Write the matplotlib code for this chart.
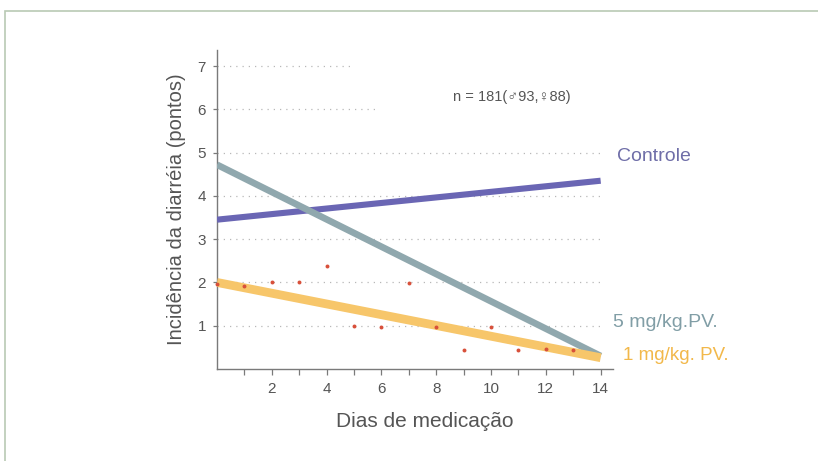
import matplotlib
matplotlib.use('Agg')
import matplotlib.pyplot as plt
from matplotlib.patches import Rectangle

plt.rcParams['font.family'] = ['Liberation Sans', 'DejaVu Sans']

# daily scores (red dots) and the three trend lines
days = list(range(0, 14))
pontos = [1.97, 1.92, 2.02, 2.02, 2.37, 1.0, 0.98, 1.99, 0.98, 0.45, 0.97, 0.45, 0.46, 0.45]

trend_x = [0, 14]
controle = [3.45, 4.35]
mg5 = [4.72, 0.30]
mg1 = [2.00, 0.26]

grid_levels = [1, 2, 3, 4, 5, 6, 7]
grid_ends = [14, 14, 14, 14, 14.1, 5.9, 4.9]

x_ticks = list(range(1, 15))
x_labels = ['' if d % 2 else str(d) for d in x_ticks]

fig = plt.figure(figsize=(8.18, 4.61), dpi=100)
ax = fig.add_axes([217 / 818, 1 - 369 / 461, (613 - 217) / 818, (369 - 50) / 461])

for lvl, end in zip(grid_levels, grid_ends):
    ax.hlines(lvl, 0, end, colors='#b8b8b8', linestyles=(0, (1, 4)), linewidth=0.9, zorder=1)

ax.plot(trend_x, controle, color='#6a66b4', linewidth=4.4, solid_capstyle='butt', zorder=3)
ax.plot(trend_x, mg5, color='#90a8ae', linewidth=4.8, solid_capstyle='butt', zorder=3)
ax.plot(trend_x, mg1, color='#f7c66a', linewidth=6.3, solid_capstyle='butt', zorder=3)
ax.scatter(days, pontos, s=8, color='#d8503a', zorder=4, linewidths=0, clip_on=False)

ax.set_xlim(0, 14.45)
ax.set_ylim(0, 7.37)
ax.set_xticks(x_ticks)
ax.set_xticklabels(x_labels)
ax.set_yticks(grid_levels)

for s in ['top', 'right']:
    ax.spines[s].set_visible(False)
for s in ['left', 'bottom']:
    ax.spines[s].set_color('#7a7a7a')
    ax.spines[s].set_linewidth(1.0)
ax.tick_params(axis='both', colors='#7a7a7a', labelcolor='#555555', labelsize=11, length=4, width=0.9)
ax.tick_params(axis='x', pad=5)
ax.tick_params(axis='y', pad=5, length=3)

ax.set_xlabel('Dias de medicação', fontsize=15, color='#555555')
ax.xaxis.set_label_coords(0.525, -0.135)
ax.set_ylabel('Incidência da diarréia (pontos)', fontsize=14.5, color='#555555', labelpad=8)

ax.text(8.6, 6.28, 'n = 181(♂93,♀88)', fontsize=10.5, color='#555555', va='center')

ax.text(14.6, 4.9, 'Controle', fontsize=14, color='#6f6ea8', va='center', clip_on=False)
ax.text(14.45, 1.08, '5 mg/kg.PV.', fontsize=14, color='#819ea6', va='center', clip_on=False)
ax.text(14.8, 0.32, '1 mg/kg. PV.', fontsize=13.5, color='#f2b84a', va='center', clip_on=False)

# outer frame of the figure box
fig.patches.append(Rectangle((5 / 818, -0.05), 1.0, 1 - 11 / 461 + 0.05, transform=fig.transFigure,
                             fill=False, edgecolor='#b9c9b4', linewidth=1.2))

fig.savefig('out.png', dpi=100)
